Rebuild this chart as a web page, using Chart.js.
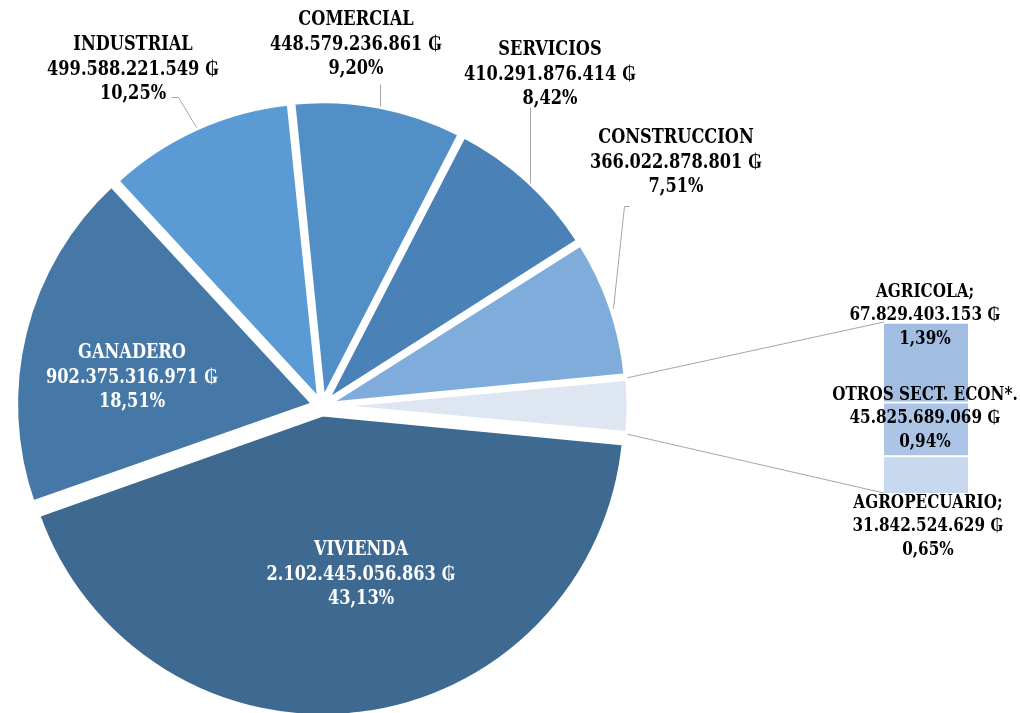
<!DOCTYPE html>
<html>
<head>
<meta charset="utf-8">
<script src="https://cdn.jsdelivr.net/npm/chart.js@4.4.0/dist/chart.umd.min.js"></script>
<style>
  html, body { margin: 0; padding: 0; background: #fff; }
  #wrap { position: relative; width: 1020px; height: 713px; }
  #wrap canvas { position: absolute; left: 0; top: 0; }
</style>
</head>
<body>
<div id="wrap">
  <canvas id="pieChart" width="1020" height="713"></canvas>
  <canvas id="barChart" width="1020" height="713"></canvas>
</div>
<script>
// datos del grafico (colones)
var sectores = ['VIVIENDA', 'GANADERO', 'INDUSTRIAL', 'COMERCIAL', 'SERVICIOS', 'CONSTRUCCION'];
var montos = [2102445056863, 902375316971, 499588221549, 448579236861, 410291876414, 366022878801];

var otrosSectores = ['AGRICOLA;', 'OTROS SECT. ECON*.', 'AGROPECUARIO;'];
var otrosMontos = [67829403153, 45825689069, 31842524629];

var coloresPie = ['#3E6A92', '#4578A7', '#5B9BD5', '#538FC7', '#4A81B7', '#80ACDB', '#DEE6F2'];
var coloresBarra = ['#A2BDE2', '#ACC5E6', '#C8D8EE'];

var sumaOtros = otrosMontos.reduce(function(a, b) { return a + b; }, 0);
var total = montos.reduce(function(a, b) { return a + b; }, 0) + sumaOtros;

// posiciones de las etiquetas (centro de la primera linea)
var posEtiquetas = [
  { x: 361, y: 550, color: '#fff' },
  { x: 132, y: 353, color: '#fff' },
  { x: 133, y: 45, color: '#000' },
  { x: 356, y: 20, color: '#000' },
  { x: 550, y: 50, color: '#000' },
  { x: 676, y: 138, color: '#000' }
];
var posEtiquetasOtros = [
  { x: 925, y: 292 },
  { x: 925, y: 395 },
  { x: 928, y: 503 }
];
var guias = [
  [[171, 97], [178, 97], [196, 127]],
  [[380, 84], [380, 106]],
  [[530, 107], [530, 183]],
  [[629, 206], [624, 206], [613, 308]]
];
var interlineado = 24.5;
var familia = "'DejaVu Serif Condensed', 'DejaVu Serif', serif";
var estiramiento = 1.13;
var pieOffsets = [32, 32, 20, 20, 20, 20, 20];

function fmtMonto(v) {
  return String(v).replace(/\B(?=(\d{3})+(?!\d))/g, '.') + ' \u20B2';
}
function fmtPct(v) {
  return (v / total * 100).toFixed(2).replace('.', ',') + '%';
}
function tamFuente(ctx) {
  ctx.font = 'bold 100px ' + familia;
  var w = ctx.measureText('448.579.236.861 \u20B2').width;
  return Math.min(21, 100 * 172 / w);
}
function linea(ctx, pts) {
  ctx.beginPath();
  pts.forEach(function(p, i) {
    if (i === 0) ctx.moveTo(p[0], p[1]); else ctx.lineTo(p[0], p[1]);
  });
  ctx.stroke();
}
function texto(ctx, t, x, y) {
  ctx.save();
  ctx.translate(x, y);
  ctx.scale(1, estiramiento);
  ctx.fillText(t, 0, 0);
  ctx.restore();
}

var etiquetasPie = {
  id: 'etiquetasPie',
  afterDatasetsDraw: function(chart) {
    var ctx = chart.ctx;
    ctx.save();
    ctx.strokeStyle = '#A6A6A6';
    ctx.lineWidth = 1;
    guias.forEach(function(g) {
      linea(ctx, g.map(function(p) { return [p[0] + 0.5, p[1] + 0.5]; }));
    });
    var size = tamFuente(ctx);
    ctx.font = 'bold ' + size + 'px ' + familia;
    ctx.textAlign = 'center';
    ctx.textBaseline = 'middle';
    sectores.forEach(function(s, i) {
      var pos = posEtiquetas[i];
      ctx.fillStyle = pos.color;
      [s, fmtMonto(montos[i]), fmtPct(montos[i])].forEach(function(t, k) {
        texto(ctx, t, pos.x, pos.y + k * interlineado);
      });
    });
    ctx.restore();
  }
};

var pieChart = new Chart(document.getElementById('pieChart'), {
  type: 'pie',
  data: {
    labels: sectores.concat(['OTROS']),
    datasets: [{
      data: montos.concat([sumaOtros]),
      backgroundColor: coloresPie,
      borderColor: '#fff',
      borderWidth: 5,
      offset: pieOffsets,
      clip: false
    }]
  },
  options: {
    responsive: false,
    animation: false,
    radius: 298,
    rotation: 90 + (sumaOtros / total) * 180,
    layout: { padding: { left: 0, right: 376, top: 100, bottom: 1 } },
    plugins: { legend: { display: false }, tooltip: { enabled: false } }
  },
  plugins: [etiquetasPie]
});

var etiquetasBarra = {
  id: 'etiquetasBarra',
  afterDatasetsDraw: function(chart) {
    var ctx = chart.ctx;
    ctx.save();
    // conectores entre la porcion OTROS y la barra
    var arc = pieChart.getDatasetMeta(0).data[6];
    var p = arc.getProps(['x', 'y', 'startAngle', 'endAngle', 'outerRadius']);
    var off = pieOffsets[6] / 4;
    var mid = (p.startAngle + p.endAngle) / 2;
    var fix = 1 - Math.sin(Math.min(Math.PI, p.endAngle - p.startAngle));
    var r = p.outerRadius + off * fix;
    var cx = p.x + Math.cos(mid) * off, cy = p.y + Math.sin(mid) * off;
    var top = chart.getDatasetMeta(2).data[0];
    var bot = chart.getDatasetMeta(0).data[0];
    var left = top.x - top.width / 2;
    ctx.strokeStyle = '#A6A6A6';
    ctx.lineWidth = 1;
    linea(ctx, [[cx + r * Math.cos(p.startAngle), cy + r * Math.sin(p.startAngle)], [left, top.y]]);
    linea(ctx, [[cx + r * Math.cos(p.endAngle), cy + r * Math.sin(p.endAngle)], [left, bot.base]]);

    var size = tamFuente(ctx) * 0.94;
    ctx.font = 'bold ' + size + 'px ' + familia;
    ctx.textAlign = 'center';
    ctx.textBaseline = 'middle';
    ctx.fillStyle = '#000';
    otrosSectores.forEach(function(s, i) {
      var pos = posEtiquetasOtros[i];
      [s, fmtMonto(otrosMontos[i]), fmtPct(otrosMontos[i])].forEach(function(t, k) {
        texto(ctx, t, pos.x, pos.y + k * 23.5);
      });
    });
    ctx.restore();
  }
};

// la barra se apila desde abajo: AGROPECUARIO, OTROS, AGRICOLA
var barDatasets = [];
for (var i = otrosSectores.length - 1; i >= 0; i--) {
  barDatasets.push({
    label: otrosSectores[i],
    data: [otrosMontos[i]],
    backgroundColor: coloresBarra[i],
    borderColor: '#fff',
    borderWidth: { top: 2, left: 0, right: 0, bottom: 0 },
    borderSkipped: false,
    categoryPercentage: 1,
    barPercentage: 1
  });
}

var barChart = new Chart(document.getElementById('barChart'), {
  type: 'bar',
  data: { labels: ['OTROS'], datasets: barDatasets },
  options: {
    responsive: false,
    animation: false,
    layout: { padding: { left: 884, right: 52, top: 322, bottom: 220 } },
    scales: {
      x: { stacked: true, display: false },
      y: { stacked: true, display: false, min: 0, max: sumaOtros }
    },
    plugins: { legend: { display: false }, tooltip: { enabled: false } }
  },
  plugins: [etiquetasBarra]
});
</script>
</body>
</html>
